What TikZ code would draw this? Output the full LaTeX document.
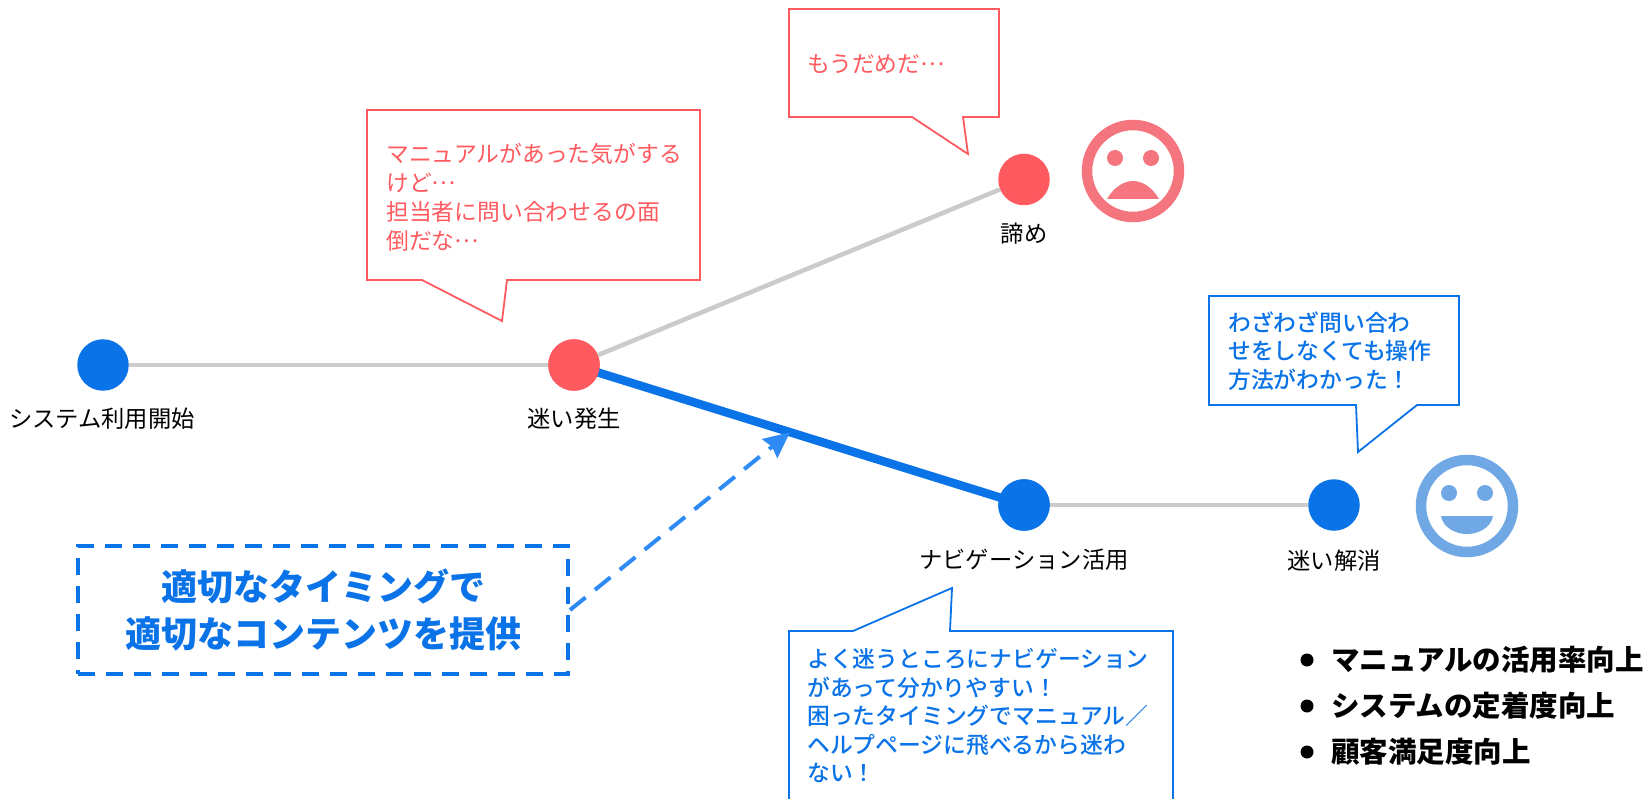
\documentclass[tikz,border=0pt]{standalone}
\usepackage{fontspec}
\setmainfont{Noto Sans CJK JP}
\newfontfamily\medfont{Noto Sans CJK JP Medium}
\newcommand{\middots}{\raisebox{0.3em}{…}}
\usetikzlibrary{arrows.meta}
\definecolor{cblue}{HTML}{0A73E8}
\definecolor{cred}{HTML}{FF5A5F}
\definecolor{cgray}{HTML}{CBCBCB}
\definecolor{cdash}{HTML}{2E8BF5}
\definecolor{csad}{HTML}{F5757F}
\definecolor{chappy}{HTML}{6FA8E4}
\tikzset{
  dotblue/.style={circle,fill=cblue,minimum size=51.5pt,inner sep=0pt},
  dotred/.style={circle,fill=cred,minimum size=51.5pt,inner sep=0pt},
  dotlabel/.style={inner sep=0pt,font=\fontsize{23.3}{28}\selectfont,text=black},
  redcall/.style={draw=cred,line width=1.8pt,fill=white,line join=miter},
  bluecall/.style={draw=cblue,line width=1.8pt,fill=white,line join=miter},
  redtext/.style={inner sep=0pt,anchor=west,align=left,text=cred,font=\fontsize{22.8}{29}\selectfont},
  bluetext/.style={inner sep=0pt,anchor=west,align=left,text=cblue,font=\medfont\fontsize{22.8}{28.5}\selectfont},
  graylink/.style={draw=cgray,line width=4.5pt},
  bulletdot/.style={circle,fill=black,minimum size=13pt,inner sep=0pt},
  bullettext/.style={inner sep=0pt,anchor=west,text=black,font=\bfseries\fontsize{28.5}{34}\selectfont},
  facering/.style={circle,draw,line width=10.5pt,fill=white,minimum size=92pt,inner sep=0pt},
}
\begin{document}
\begin{tikzpicture}[x=1pt,y=-1pt]
\useasboundingbox (0,0) rectangle (1646,799);
\clip (0,0) rectangle (1646,799);
\fill[white] (0,0) rectangle (1646,799);
% dots
\node[dotblue] (start) at (103,365) {};
\node[dotred] (lost) at (574,365) {};
\node[dotred] (giveup) at (1024,179.5) {};
\node[dotblue] (nav) at (1024,505) {};
\node[dotblue] (solved) at (1334,505) {};
% links
\draw[graylink] (start) -- (lost);
\draw[graylink] (lost) -- (giveup);
\draw[graylink] (nav) -- (solved);
\draw[draw=cblue,line width=8.5pt] (lost.center) -- (nav.center) coordinate[pos=0.48] (midblue);
\node[dotred] at (lost) {};
\node[dotblue] at (nav) {};
% labels
\node[dotlabel] (l1) at (102,419) {システム利用開始};
\node[dotlabel] (l2) at (574,419) {迷い発生};
\node[dotlabel] (l3) at (1024,234) {諦め};
\node[dotlabel] (l4) at (1024,560) {ナビゲーション活用};
\node[dotlabel] (l5) at (1334,561) {迷い解消};
% callouts
\draw[redcall] (367,110) -- (700,110) -- (700,280) -- (507,280) -- (502,321) -- (422,280) -- (367,280) -- cycle;
\node[redtext] (t1) at (386,197) {マニュアルがあった気がする\\けど\middots\\担当者に問い合わせるの面\\倒だな\middots};
\draw[redcall] (789,9) -- (999,9) -- (999,117) -- (963,117) -- (968,154) -- (912,117) -- (789,117) -- cycle;
\node[redtext] (t2) at (807,64) {もうだめだ\middots};
\draw[bluecall] (1209,296) -- (1459,296) -- (1459,405) -- (1417,405) -- (1358,452) -- (1356,405) -- (1209,405) -- cycle;
\node[bluetext] (t3) at (1228,351) {わざわざ問い合わ\\せをしなくても操作\\方法がわかった！};
\draw[bluecall] (789,810) -- (789,631) -- (853,631) -- (952,588) -- (950,631) -- (1173,631) -- (1173,810);
\node[bluetext] (t4) at (807,716) {よく迷うところにナビゲーション\\があって分かりやすい！\\困ったタイミングでマニュアル／\\ヘルプページに飛べるから迷わ\\ない！};
% dashed box and arrow
\node[draw=cblue,line width=4pt,dash pattern=on 17pt off 11pt,minimum width=490pt,minimum height=128pt,inner sep=0pt,align=center,text=cblue,font=\bfseries\fontsize{36}{47}\selectfont] (box) at (323,610) {適切なタイミングで\\適切なコンテンツを提供};
\draw[draw=cdash,line width=4pt,dash pattern=on 20pt off 12pt,-{Stealth[length=26pt,width=24pt,inset=3pt]}] (box.east) -- (midblue);
% faces
\node[facering,draw=csad] (sad) at (1133,171) {};
\fill[csad] (1115,158) circle (8);
\fill[csad] (1151,158) circle (8);
\fill[csad] (1107,199) .. controls (1114,187) and (1124,181) .. (1133,181) .. controls (1142,181) and (1152,187) .. (1159,199) -- cycle;
\node[facering,draw=chappy] (happy) at (1467,506) {};
\fill[chappy] (1449,493) circle (8);
\fill[chappy] (1485,493) circle (8);
\fill[chappy] (1441,516) -- (1493,516) .. controls (1491,528) and (1478,534) .. (1467,534) .. controls (1456,534) and (1443,528) .. (1441,516) -- cycle;
% bullets
\node[bulletdot] (b1) at (1307,660) {};
\node[bulletdot] (b2) at (1307,706) {};
\node[bulletdot] (b3) at (1307,752) {};
\node[bullettext] (x1) at (1331,660) {マニュアルの活用率向上};
\node[bullettext] (x2) at (1331,706) {システムの定着度向上};
\node[bullettext] (x3) at (1331,752) {顧客満足度向上};
\end{tikzpicture}
\end{document}
